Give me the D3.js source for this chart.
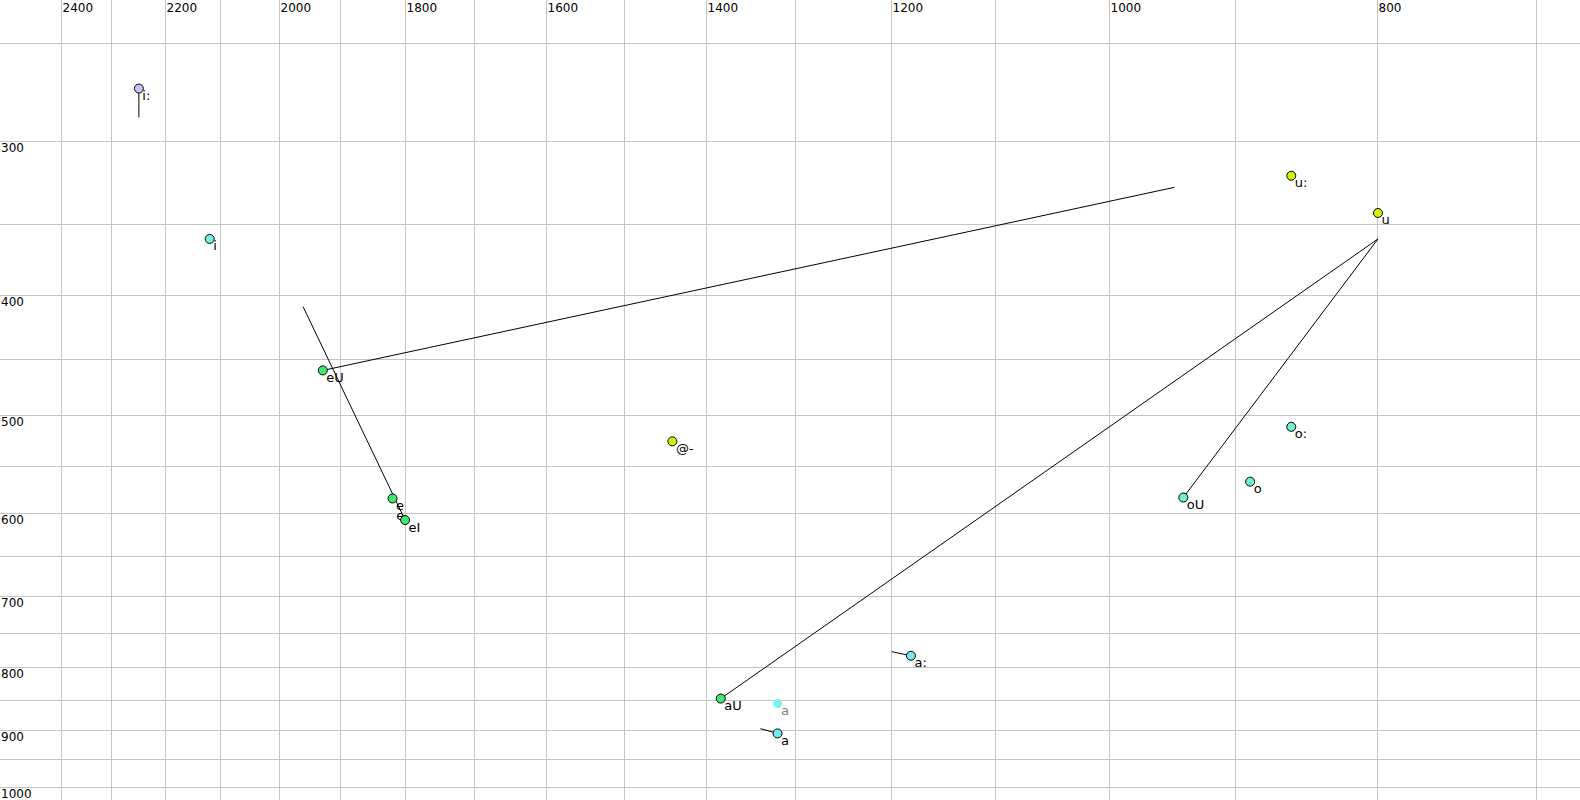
<!DOCTYPE html>
<html>
<head>
<meta charset="utf-8">
<script src="https://cdn.jsdelivr.net/npm/d3@7/dist/d3.min.js"></script>
<style>
  html, body { margin: 0; padding: 0; background: #fff; }
  svg { display: block; }
  text { font-family: "DejaVu Sans", sans-serif; }
</style>
</head>
<body>
<div id="chart"></div>
<script>
// ---- data ----
const xGridValues = [700, 800, 900, 1000, 1100, 1200, 1300, 1400, 1500, 1600, 1700, 1800, 1900, 2000, 2100, 2200, 2300, 2400];
const xTickLabels = [2400, 2200, 2000, 1800, 1600, 1400, 1200, 1000, 800];
const yGridValues = [250, 300, 350, 400, 450, 500, 550, 600, 650, 700, 750, 800, 850, 900, 950, 1000];
const yTickLabels = [300, 400, 500, 600, 700, 800, 900, 1000];

// vowels: label, F2 (Hz), F1 (Hz), colour group
const vowelLabels = ["i:", "i", "eU", "e", "eI", "@-", "u:", "u", "o:", "o", "oU", "a:", "aU", "a", "a"];
const vowelF2 =     [2248, 2119, 1928, 1819, 1800, 1440, 859, 799, 859, 889, 940, 1180, 1383, 1319, 1319];
const vowelF1 =     [272, 360, 460, 584, 608, 525, 320, 343, 511, 566, 583, 783, 848, 856, 905];
const vowelGroup =  ["lav", "cyanA", "green", "green", "green", "yellow", "yellow", "yellow", "aqua", "aqua", "aqua", "cyan", "green", "faded", "cyan"];

// labels without a visible marker
const hiddenLabels = ["e"];
const hiddenF2 = [1818];
const hiddenF1 = [596];

// trajectories: start F2/F1 -> end F2/F1
const trajStartF2 = [2248, 1928, 1800, 1383, 940, 1180, 1319];
const trajStartF1 = [272, 460, 608, 848, 583, 783, 905];
const trajEndF2 =   [2248, 947, 1960, 799, 799, 1199, 1338];
const trajEndF1 =   [287, 327, 408.5, 360, 360, 777, 897];

// ---- styles ----
const groupFill = {
  lav: "#c8c4f4",
  cyanA: "#6ff3e0",
  green: "#44e870",
  yellow: "#d2f00a",
  aqua: "#6ff0d2",
  cyan: "#72ecec",
  faded: "#7ff0f0"
};

const W = 1580, H = 800;
const svg = d3.select("#chart").append("svg").attr("width", W).attr("height", H);

const x = d3.scaleLog().domain([2400, 800]).range([60.5, 1376.5]);
const y = d3.scaleLog().domain([250, 1000]).range([43.3, 787]);

// grid
svg.append("g").selectAll("line").data(xGridValues).join("line")
  .attr("x1", d => Math.round(x(d)) + 0.5).attr("x2", d => Math.round(x(d)) + 0.5)
  .attr("y1", 0).attr("y2", H)
  .attr("stroke", "#c4c4c4").attr("stroke-width", 1);
svg.append("g").selectAll("line").data(yGridValues).join("line")
  .attr("y1", d => Math.round(y(d)) + 0.5).attr("y2", d => Math.round(y(d)) + 0.5)
  .attr("x1", 0).attr("x2", W)
  .attr("stroke", "#c4c4c4").attr("stroke-width", 1);

// tick labels
svg.append("g").selectAll("text").data(xTickLabels).join("text")
  .attr("x", d => Math.round(x(d)) + 1.5).attr("y", 12)
  .attr("font-size", 12).attr("fill", "#000")
  .text(d => d);
svg.append("g").selectAll("text").data(yTickLabels).join("text")
  .attr("x", 1).attr("y", d => Math.round(y(d)) + 11)
  .attr("font-size", 12).attr("fill", "#000")
  .text(d => d);

// trajectories
svg.append("g").selectAll("line").data(trajStartF2.map((d, i) => i)).join("line")
  .attr("x1", i => x(trajStartF2[i])).attr("y1", i => y(trajStartF1[i]))
  .attr("x2", i => x(trajEndF2[i])).attr("y2", i => y(trajEndF1[i]))
  .attr("stroke", "#000").attr("stroke-width", 1);

// hidden labels
svg.append("g").selectAll("text").data(hiddenLabels.map((d, i) => i)).join("text")
  .attr("x", i => x(hiddenF2[i]) + 3).attr("y", i => y(hiddenF1[i]) + 11)
  .attr("font-size", 13).attr("fill", "#000")
  .text(i => hiddenLabels[i]);

// vowel markers & labels
const idx = vowelLabels.map((d, i) => i);
const g = svg.append("g");
g.selectAll("circle").data(idx).join("circle")
  .attr("cx", i => x(vowelF2[i])).attr("cy", i => y(vowelF1[i]))
  .attr("r", 4.5)
  .attr("fill", i => groupFill[vowelGroup[i]])
  .attr("stroke", i => vowelGroup[i] === "faded" ? "none" : "#000")
  .attr("stroke-width", 1);
g.selectAll("text").data(idx).join("text")
  .attr("x", i => x(vowelF2[i]) + 3.5).attr("y", i => y(vowelF1[i]) + 11.5)
  .attr("font-size", 13)
  .attr("fill", i => vowelGroup[i] === "faded" ? "#808090" : "#000")
  .text(i => vowelLabels[i]);
</script>
</body>
</html>
